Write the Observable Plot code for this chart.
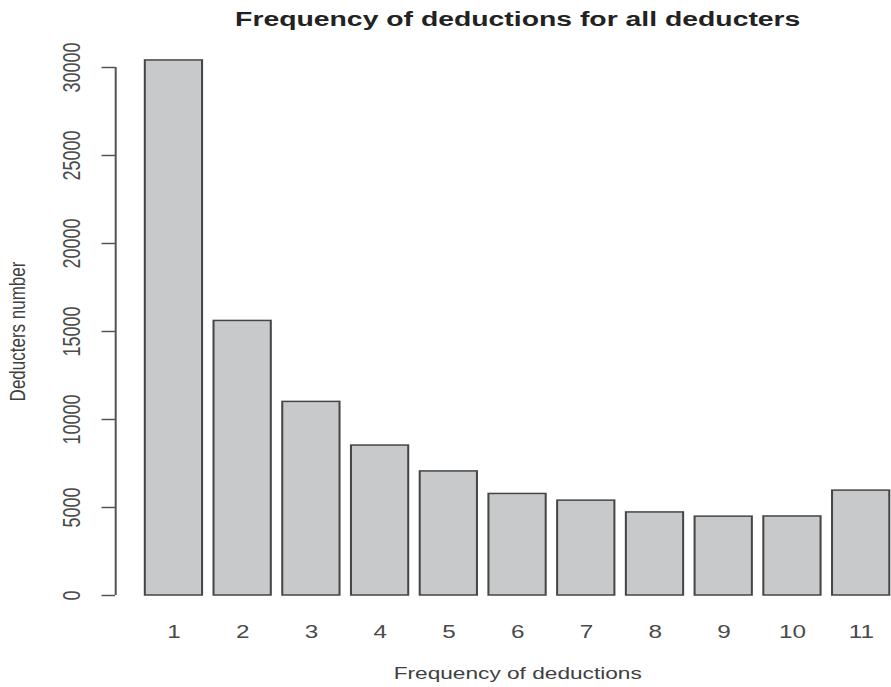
<!DOCTYPE html>
<html>
<head>
<meta charset="utf-8">
<script src="https://cdn.jsdelivr.net/npm/d3@7"></script>
<script src="https://cdn.jsdelivr.net/npm/@observablehq/plot@0.6"></script>
<style>
  html, body { margin: 0; padding: 0; background: #ffffff; overflow: hidden; }
  #chart svg { display: block; transform: scaleX(1.35); transform-origin: 0 0; }
</style>
</head>
<body>
<div id="chart"></div>
<script>
const categories = ["1", "2", "3", "4", "5", "6", "7", "8", "9", "10", "11"];
const counts = [30400, 15600, 11000, 8520, 7050, 5770, 5390, 4720, 4480, 4490, 5960];
const yTicks = [0, 5000, 10000, 15000, 20000, 25000, 30000];
const title = "Frequency of deductions for all deducters";
const xLabel = "Frequency of deductions";
const yLabel = "Deducters number";

// R barplot geometry: width 1, space 0.2
const data = categories.map((c, i) => ({c, n: counts[i], i}));
const left = d => 0.2 + 1.2 * d.i;
const right = d => 1.2 + 1.2 * d.i;
const mid = d => 0.7 + 1.2 * d.i;
const x0 = 0.2 - 0.04 * 13, x1 = 13.2 + 0.04 * 13;

const plot = Plot.plot({
  width: 660,
  height: 687,
  marginLeft: 85.2,
  marginRight: 0,
  marginTop: 67,
  marginBottom: 92,
  x: {domain: [x0, x1], range: [85.2, 680.8], axis: null},
  y: {domain: [0, 30000]},
  style: {fontFamily: "'Liberation Sans', Arial, sans-serif", background: "#ffffff", overflow: "visible"},
  marks: [
    Plot.rectY(data, {x1: left, x2: right, y1: 0, y2: "n", fill: "#c8c9cb", stroke: "#454545", strokeWidth: 1.5}),
    Plot.ruleX([x0], {y1: 0, y2: 30000, stroke: "#555555", strokeWidth: 1.5}),
    Plot.axisY({ticks: yTicks, tickSize: 10, tickFormat: () => "", label: null, stroke: "#555555", strokeWidth: 1.5}),
    Plot.text(yTicks, {y: d => d, text: d => String(d), frameAnchor: "left", textAnchor: "middle", lineAnchor: "middle", dx: -31.9, rotate: -90, fontSize: 18, fill: "#4a4a4a"}),
    Plot.text(data, {x: mid, text: "c", frameAnchor: "bottom", textAnchor: "middle", lineAnchor: "middle", dy: 37, fontSize: 18, fill: "#4a4a4a"}),
    Plot.text([title], {x: (x0 + x1) / 2, frameAnchor: "top", textAnchor: "middle", lineAnchor: "middle", dy: -48, fontSize: 21, fontWeight: "bold", fill: "#222222"}),
    Plot.text([xLabel], {x: (x0 + x1) / 2, frameAnchor: "bottom", textAnchor: "middle", lineAnchor: "middle", dy: 78, fontSize: 16.8, fill: "#404040"}),
    Plot.text([yLabel], {frameAnchor: "left", textAnchor: "middle", lineAnchor: "middle", dx: -72.7, rotate: -90, fontSize: 17, fill: "#404040"})
  ]
});
document.getElementById("chart").appendChild(plot);
</script>
</body>
</html>
